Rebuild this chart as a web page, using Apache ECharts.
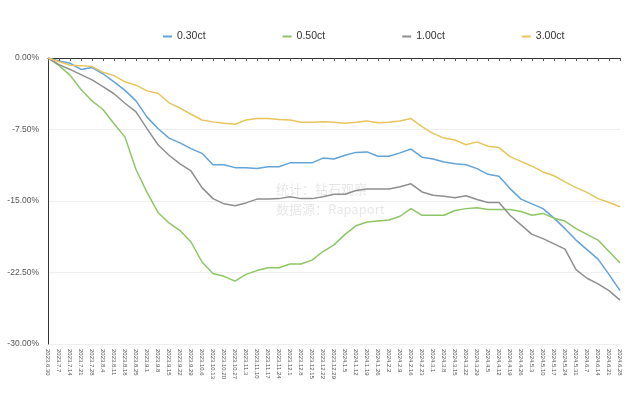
<!DOCTYPE html>
<html>
<head>
<meta charset="utf-8">
<script src="https://cdn.jsdelivr.net/npm/echarts@6/dist/echarts.min.js"></script>
<style>
  html, body { margin: 0; padding: 0; background: #fff; }
  #chart { width: 640px; height: 398px; }
</style>
</head>
<body>
<div id="chart"></div>
<script>
const dates = [
  '2023.6.30', '2023.7.7', '2023.7.14', '2023.7.21', '2023.7.28', '2023.8.4', '2023.8.11', '2023.8.18',
  '2023.8.25', '2023.9.1', '2023.9.8', '2023.9.15', '2023.9.22', '2023.9.29', '2023.10.6', '2023.10.13',
  '2023.10.20', '2023.10.27', '2023.11.3', '2023.11.10', '2023.11.17', '2023.11.24', '2023.12.1', '2023.12.8',
  '2023.12.15', '2023.12.22', '2023.12.29', '2024.1.5', '2024.1.12', '2024.1.19', '2024.1.26', '2024.2.2',
  '2024.2.9', '2024.2.16', '2024.2.23', '2024.3.1', '2024.3.8', '2024.3.15', '2024.3.22', '2024.3.29',
  '2024.4.5', '2024.4.12', '2024.4.19', '2024.4.26', '2024.5.3', '2024.5.10', '2024.5.17', '2024.5.24',
  '2024.5.31', '2024.6.7', '2024.6.14', '2024.6.21', '2024.6.28'
]

// weekly change vs 2023.6.30, in %
const ct030 = [
  0, -0.3, -0.55, -1.2, -1.0, -1.65, -2.5, -3.4, -4.5, -6.2, -7.4, -8.4, -8.9, -9.5, -10.0, -11.2,
  -11.2, -11.5, -11.5, -11.6, -11.4, -11.4, -11.0, -11.0, -11.0, -10.5, -10.6, -10.2, -9.9, -9.85,
  -10.3, -10.3, -9.95, -9.55, -10.4, -10.6, -10.9, -11.1, -11.2, -11.6, -12.2, -12.4, -13.7, -14.8,
  -15.3, -15.8, -16.8, -17.9, -19.1, -20.1, -21.1, -22.7, -24.4
]
const ct050 = [
  0, -0.8, -1.8, -3.3, -4.5, -5.4, -6.9, -8.3, -11.7, -14.1, -16.2, -17.3, -18.1, -19.3, -21.4, -22.6,
  -22.9, -23.4, -22.7, -22.3, -22.0, -22.0, -21.6, -21.6, -21.2, -20.3, -19.6, -18.5, -17.6, -17.2,
  -17.1, -17.0, -16.6, -15.8, -16.5, -16.5, -16.5, -16.0, -15.8, -15.7, -15.9, -15.9, -15.9, -16.1,
  -16.5, -16.3, -16.8, -17.1, -17.9, -18.5, -19.1, -20.3, -21.5
]
const ct100 = [
  0, -0.7, -1.2, -1.75, -2.3, -3.0, -3.75, -4.75, -5.65, -7.4, -9.1, -10.2, -11.1, -11.85, -13.6, -14.75,
  -15.3, -15.5, -15.2, -14.8, -14.8, -14.75, -14.55, -14.75, -14.75, -14.55, -14.3, -14.3, -13.9, -13.75,
  -13.75, -13.75, -13.5, -13.2, -14.05, -14.4, -14.5, -14.65, -14.45, -14.85, -15.15, -15.15, -16.5, -17.5,
  -18.5, -18.95, -19.5, -20.05, -22.2, -23.1, -23.7, -24.4, -25.4
]
const ct300 = [
  0, -0.4, -0.75, -0.8, -0.9, -1.5, -1.85, -2.5, -2.85, -3.45, -3.7, -4.7, -5.25, -5.9, -6.5, -6.7,
  -6.85, -6.95, -6.5, -6.35, -6.35, -6.45, -6.5, -6.75, -6.75, -6.7, -6.75, -6.85, -6.75, -6.6,
  -6.8, -6.75, -6.6, -6.35, -7.2, -7.9, -8.4, -8.6, -9.1, -8.8, -9.25, -9.4, -10.35, -10.85,
  -11.35, -11.95, -12.35, -13.0, -13.6, -14.1, -14.75, -15.15, -15.6
]

const seriesNames = ['0.30ct', '0.50ct', '1.00ct', '3.00ct']
const seriesData = [ct030, ct050, ct100, ct300]
const colors = ['#62a3da', '#8cc764', '#8f8f8f', '#e9c45c']

const chart = echarts.init(document.getElementById('chart'))
chart.setOption({
  animation: false,
  color: colors,
  legend: {
    top: 26,
    left: 158,
    itemGap: 77,
    itemWidth: 9,
    itemHeight: 2,
    icon: 'rect',
    textStyle: { color: '#333', fontSize: 10.5, fontFamily: 'Liberation Sans' },
    data: seriesNames,
  },
  grid: { left: 48, right: 20, top: 58, bottom: 54, containLabel: false },
  xAxis: {
    type: 'category',
    boundaryGap: false,
    data: dates,
    axisLine: { lineStyle: { color: '#333', width: 1 } },
    axisTick: { show: true, length: 3, lineStyle: { color: '#555' } },
    axisLabel: {
      interval: 0,
      rotate: -90,
      fontSize: 6,
      color: '#555',
      margin: 5,
      fontFamily: 'Liberation Sans',
    },
  },
  yAxis: {
    type: 'value',
    min: -30,
    max: 0,
    interval: 7.5,
    axisLine: { show: true, lineStyle: { color: '#333', width: 1 } },
    axisTick: { show: false },
    axisLabel: {
      color: '#555',
      fontSize: 8.5,
      margin: 9,
      fontFamily: 'Liberation Sans',
      formatter: (v) => v.toFixed(2) + '%',
    },
    splitLine: { lineStyle: { color: '#eee' } },
  },
  graphic: [
    {
      type: 'text', left: 276, top: 183, silent: true,
      style: { text: '统计：钻石观察', fill: 'rgba(0,0,0,0.1)', font: '13px "Noto Sans CJK SC"' },
    },
    {
      type: 'text', left: 276, top: 203, silent: true,
      style: { text: '数据源：Rapaport', fill: 'rgba(0,0,0,0.1)', font: '13px "Noto Sans CJK SC"' },
    },
  ],
  series: seriesNames.map((name, i) => ({
    name,
    type: 'line',
    data: seriesData[i],
    showSymbol: false,
    lineStyle: { width: 1.5 },
  })),
})
</script>
</body>
</html>
